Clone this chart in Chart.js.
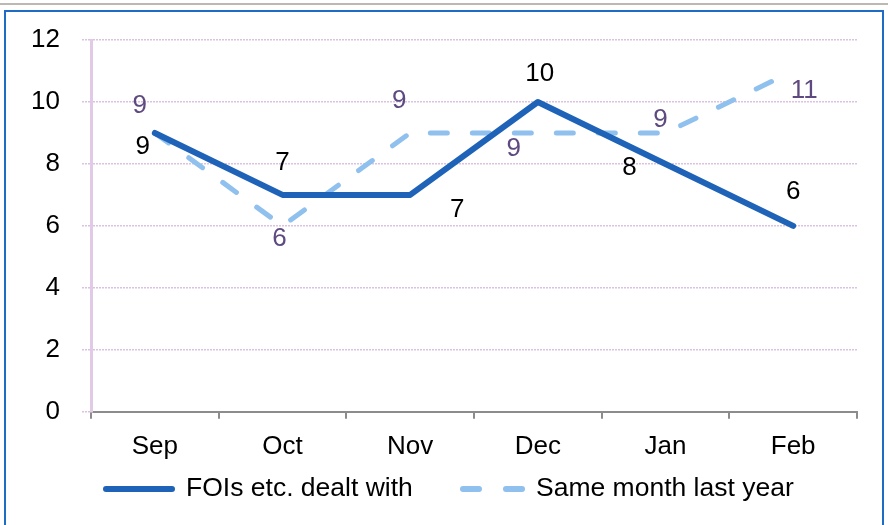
<!DOCTYPE html>
<html>
<head>
<meta charset="utf-8">
<script src="https://cdn.jsdelivr.net/npm/chart.js@4"></script>
<style>
  html, body { margin: 0; padding: 0; background: #fff; }
  #wrap { width: 888px; height: 525px; position: relative; }
</style>
</head>
<body>
<div id="wrap"><canvas id="foiChart" width="888" height="525"></canvas></div>
<script>
const months = ["Sep", "Oct", "Nov", "Dec", "Jan", "Feb"];
const foisDealt = [9, 7, 7, 10, 8, 6];
const sameMonthLastYear = [9, 6, 9, 9, 9, 11];
const yTicks = [0, 2, 4, 6, 8, 10, 12];

// where each value label sits relative to its point (px)
const labelOffsets = [
    [[-12, 14], [0, -32], [47, 15], [2, -28], [-36, 4], [0, -34]],
    [[-15, -27], [-3, 13], [-11, -32], [-24, 16], [-5, -13], [11, 20]]
];
const labelColors = ["#000000", "#5e4a80"];
// legend: x of each sample line start, sample length, dash
const legendX = [103, 460];
const legendSample = [72, 65];
const legendDash = [[], [16, 27]];
const legendY = 489;

const FONT = "'Liberation Sans', Arial, sans-serif";

const framePlugin = {
    id: "frame",
    beforeDraw(chart) {
        const ctx = chart.ctx;
        ctx.save();
        ctx.fillStyle = "#fff";
        ctx.fillRect(0, 0, chart.width, chart.height);
        ctx.fillStyle = "#bdb8b2";
        ctx.fillRect(0, 3, chart.width, 2);
        ctx.strokeStyle = "#1f6cc4";
        ctx.lineWidth = 2;
        ctx.strokeRect(5, 11, 878, 530);
        ctx.restore();
    }
};

const valueLabels = {
    id: "valueLabels",
    afterDatasetsDraw(chart) {
        const ctx = chart.ctx;
        ctx.save();
        ctx.font = "26px " + FONT;
        ctx.textAlign = "center";
        ctx.textBaseline = "middle";
        chart.data.datasets.forEach((ds, i) => {
            chart.getDatasetMeta(i).data.forEach((pt, j) => {
                const off = labelOffsets[i][j];
                ctx.fillStyle = labelColors[i];
                ctx.fillText(String(ds.data[j]), pt.x + off[0], pt.y + off[1]);
            });
        });
        ctx.restore();
    }
};

const lineLegend = {
    id: "lineLegend",
    afterDraw(chart) {
        const ctx = chart.ctx;
        ctx.save();
        ctx.font = "26.5px " + FONT;
        ctx.textBaseline = "middle";
        ctx.fillStyle = "#000";
        chart.data.datasets.forEach((ds, i) => {
            const x0 = legendX[i] + 3, x1 = legendX[i] + legendSample[i] - 3;
            ctx.strokeStyle = ds.borderColor;
            ctx.lineWidth = 6;
            ctx.lineCap = "round";
            ctx.setLineDash(legendDash[i]);
            ctx.beginPath();
            ctx.moveTo(x0, legendY);
            ctx.lineTo(x1, legendY);
            ctx.stroke();
            ctx.setLineDash([]);
            ctx.fillText(ds.label, legendX[i] + legendSample[i] + 11, legendY);
        });
        ctx.restore();
    }
};

new Chart(document.getElementById("foiChart").getContext("2d"), {
    type: "line",
    data: {
        labels: months,
        datasets: [{
            label: "FOIs etc. dealt with",
            data: foisDealt,
            borderColor: "#1f63b8",
            borderWidth: 6,
            borderCapStyle: "round",
            borderJoinStyle: "round",
            pointRadius: 0,
            tension: 0
        }, {
            label: "Same month last year",
            data: sameMonthLastYear,
            borderColor: "#8fc0ee",
            borderWidth: 5,
            borderDash: [17, 25],
            borderCapStyle: "round",
            pointRadius: 0,
            tension: 0
        }]
    },
    options: {
        responsive: false,
        animation: false,
        layout: { padding: { left: 0, top: 40, right: 31, bottom: 51 } },
        plugins: {
            tooltip: { enabled: false },
            legend: { display: false }
        },
        scales: {
            x: {
                offset: true,
                grid: {
                    offset: true,
                    drawOnChartArea: false,
                    tickLength: 7,
                    color: "#8c8c8c",
                    lineWidth: 2
                },
                border: { color: "#8c8c8c", width: 2 },
                ticks: { color: "#000", padding: 12, font: { family: FONT, size: 26 } }
            },
            y: {
                min: 0,
                max: 12,
                afterBuildTicks(scale) { scale.ticks = yTicks.map(v => ({ value: v })); },
                afterFit(scale) { scale.width = 91; },
                grid: {
                    color: "#dbc2e2",
                    borderDash: [2, 1],
                    tickColor: "#dbc2e2",
                    tickBorderDash: [2, 1],
                    tickLength: 9,
                    lineWidth: 1.5
                },
                border: { color: "#e0cae6", width: 3, dash: [2, 1] },
                ticks: { color: "#000", padding: 22, font: { family: FONT, size: 26 } }
            }
        }
    },
    plugins: [framePlugin, valueLabels, lineLegend]
});
</script>
</body>
</html>
